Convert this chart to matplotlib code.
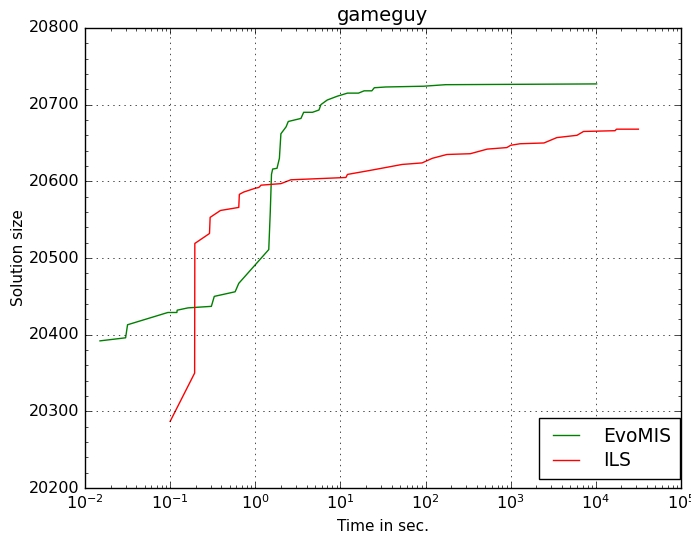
import matplotlib
matplotlib.use("Agg")
import matplotlib.pyplot as plt
from matplotlib.ticker import AutoMinorLocator, ScalarFormatter

# Solution size over time for the gameguy instance
evomis_time = [0.015, 0.030, 0.0316, 0.094, 0.12, 0.121, 0.162, 0.305, 0.33, 0.58,
               0.64, 1.44, 1.5, 1.55, 1.6, 1.8, 1.92, 2.0, 2.3, 2.44, 3.44, 3.7, 4.7,
               5.6, 5.9, 7.0, 9.2, 12.1, 16.3, 19, 23.4, 25, 34, 95, 172, 10200]
evomis_size = [20392, 20396, 20413, 20429, 20429, 20432, 20435, 20437, 20450, 20456,
               20467, 20511, 20560, 20609, 20616, 20617, 20630, 20662, 20671, 20678,
               20682, 20690, 20690, 20693, 20700, 20706, 20711, 20715, 20715, 20718,
               20718, 20722, 20723, 20724, 20726, 20727]

ils_time = [0.1, 0.194, 0.195, 0.29, 0.295, 0.39, 0.64, 0.65, 0.73, 1.0, 1.1, 1.17,
            2.0, 2.62, 11.6, 12.1, 21.7, 34, 53, 91, 120, 178, 335, 530, 900, 1000,
            1290, 2460, 3480, 6000, 7170, 16800, 17500, 31600]
ils_size = [20287, 20350, 20519, 20532, 20553, 20562, 20566, 20583, 20586, 20591,
            20592, 20595, 20597, 20602, 20605, 20609, 20614, 20618, 20622, 20624,
            20630, 20635, 20636, 20642, 20644, 20647, 20649, 20650, 20657, 20660,
            20665, 20666, 20668, 20668]

plt.style.use("classic")
plt.rcParams["mathtext.fontset"] = "dejavusans"

fig = plt.figure(figsize=(6.91, 5.37), dpi=100, facecolor="white")
ax = fig.add_axes([0.123, 0.091, 0.8625, 0.857])

ax.plot(evomis_time, evomis_size, color="green", label="EvoMIS")
ax.plot(ils_time, ils_size, color="red", label="ILS")

ax.set_xscale("log")
ax.set_xlim(1e-2, 1e5)
ax.set_ylim(20200, 20800)
ax.yaxis.set_major_formatter(ScalarFormatter(useOffset=False))
ax.yaxis.set_minor_locator(AutoMinorLocator(5))
ax.grid(True)

ax.set_title("gameguy", fontsize=14)
ax.set_xlabel("Time in sec.", fontsize=11)
ax.set_ylabel("Solution size", fontsize=11, labelpad=2)
ax.tick_params(labelsize=11.5)

leg = ax.legend(loc="lower right", bbox_to_anchor=(0.998, 0.02), borderaxespad=0,
                fontsize=13.5, labelspacing=0.3, borderpad=0.45, handletextpad=1.0)

fig.savefig("out.png", dpi=100, facecolor="white")
